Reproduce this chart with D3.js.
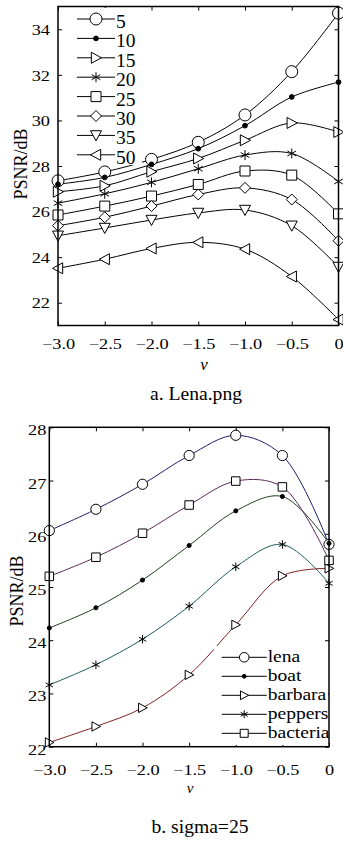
<!DOCTYPE html>
<html>
<head>
<meta charset="utf-8">
<script src="https://cdn.jsdelivr.net/npm/d3@7"></script>
<style>
  body { margin: 0; background: #fff; }
  svg { display: block; font-family: "Liberation Serif", "Times New Roman", serif; }
</style>
</head>
<body>
<svg id="fig" width="343" height="841"></svg>
<script>
// x positions (v) shared by both panels
const vValues = [-3, -2.5, -2, -1.5, -1, -0.5, 0];

// panel a: Lena.png, one curve per noise level
const sigmaLabels = ['5', '10', '15', '20', '25', '30', '35', '50'];
const sigma5  = [27.35, 27.74, 28.29, 29.04, 30.24, 32.14, 34.71];
const sigma10 = [27.20, 27.50, 28.07, 28.76, 29.77, 31.03, 31.68];
const sigma15 = [26.87, 27.13, 27.75, 28.33, 29.13, 29.89, 29.49];
const sigma20 = [26.37, 26.78, 27.28, 27.88, 28.48, 28.55, 27.32];
const sigma25 = [25.85, 26.24, 26.68, 27.19, 27.78, 27.60, 25.90];
const sigma30 = [25.38, 25.75, 26.24, 26.75, 27.04, 26.53, 24.72];
const sigma35 = [24.94, 25.28, 25.63, 25.94, 26.07, 25.38, 23.57];
const sigma50 = [23.51, 23.91, 24.38, 24.65, 24.35, 23.15, 21.26];
const yTicksA = [22, 24, 26, 28, 30, 32, 34];

// panel b: sigma=25, one curve per image
const imageLabels = ['lena', 'boat', 'barbara', 'peppers', 'bacteria'];
const lena     = [26.06, 26.46, 26.93, 27.47, 27.85, 27.47, 25.80];
const boat     = [24.23, 24.61, 25.13, 25.78, 26.43, 26.70, 25.82];
const barbara  = [22.08, 22.38, 22.73, 23.35, 24.29, 25.21, 25.35];
const peppers  = [23.16, 23.54, 24.02, 24.64, 25.38, 25.80, 25.07];
const bacteria = [25.20, 25.56, 26.01, 26.54, 26.99, 26.88, 25.50];
const yTicksB = [22, 23, 24, 25, 26, 27, 28];

const svg = d3.select('#fig');
const STRETCH = 1.22;

// marker shapes, s = half size
function markerPath(type, s) {
  const c = s * Math.cos(Math.PI / 6), h = s * Math.sin(Math.PI / 6);
  switch (type) {
    case 'circle':
    case 'dot':
      return `M${s},0A${s},${s} 0 1,1 ${-s},0A${s},${s} 0 1,1 ${s},0Z`;
    case 'triR': return `M${-s * 0.85},${-s}L${s},0L${-s * 0.85},${s}Z`;
    case 'triL': return `M${s * 0.85},${-s}L${-s},0L${s * 0.85},${s}Z`;
    case 'triD': return `M${-s},${-s * 0.85}L${s},${-s * 0.85}L0,${s}Z`;
    case 'square': return `M${-s},${-s}h${2 * s}v${2 * s}h${-2 * s}Z`;
    case 'diamond': return `M0,${-s}L${s},0L0,${s}L${-s},0Z`;
    case 'star': return `M0,${-s}V${s}M${-c},${-h}L${c},${h}M${-c},${h}L${c},${-h}`;
  }
}
const markerSize = { circle: 6, dot: 2.4, triR: 5.5, triL: 5.5, triD: 5.5, square: 5, diamond: 5.5, star: 5 };

function drawMarker(g, type, cx, cy, scale) {
  const s = markerSize[type] * scale;
  g.append('path')
    .attr('transform', `translate(${cx},${cy})`)
    .attr('d', markerPath(type, s))
    .attr('fill', type === 'dot' ? '#000' : (type === 'star' ? 'none' : '#fff'))
    .attr('stroke', '#000')
    .attr('stroke-width', 1);
}

const fmtV = d => d === 0 ? '0' : d3.format('.1f')(d);

function drawPanel(cfg) {
  const g = svg.append('g');
  const x = d3.scaleLinear().domain([-3, 0]).range([cfg.left, cfg.right]);
  const y = d3.scaleLinear().domain(cfg.yDomain).range([cfg.bottom, cfg.top]);

  // axes with inward ticks on all four sides
  const xb = g.append('g')
    .attr('transform', `translate(0,${cfg.bottom})`)
    .call(d3.axisBottom(x).tickValues(vValues).tickSizeInner(-4).tickSizeOuter(0).tickFormat(fmtV));
  const xt = g.append('g')
    .attr('transform', `translate(0,${cfg.top})`)
    .call(d3.axisTop(x).tickValues(vValues).tickSizeInner(-4).tickSizeOuter(0).tickFormat(''));
  const yl = g.append('g')
    .attr('transform', `translate(${cfg.left},0)`)
    .call(d3.axisLeft(y).tickValues(cfg.yTicks).tickSizeInner(-4).tickSizeOuter(0).tickFormat(d3.format('d')));
  const yr = g.append('g')
    .attr('transform', `translate(${cfg.right},0)`)
    .call(d3.axisRight(y).tickValues(cfg.yTicks).tickSizeInner(-4).tickSizeOuter(0).tickFormat(''));

  [xb, xt, yl, yr].forEach(a => {
    a.select('.domain').remove();
    a.attr('font-family', null).attr('font-size', 15);
    a.selectAll('.tick line').attr('stroke', '#000').attr('stroke-width', 1);
  });
  xb.selectAll('.tick text')
    .attr('y', cfg.xTickY).attr('dy', null)
    .attr('fill', '#000')
    .attr('transform', `scale(${STRETCH},1)`);
  yl.selectAll('.tick text')
    .attr('x', -cfg.yTickGap / STRETCH).attr('dy', cfg.yTickDy)
    .attr('fill', '#000')
    .attr('transform', `scale(${STRETCH},1)`);

  // curves
  const line = d3.line()
    .x((d, i) => x(vValues[i]))
    .y(d => y(d))
    .curve(d3.curveCatmullRom.alpha(0.5));

  cfg.series.forEach(s => {
    g.append('path')
      .attr('d', line(s.values))
      .attr('fill', 'none')
      .attr('stroke', s.color)
      .attr('stroke-width', 1);
  });
  cfg.series.forEach(s => {
    s.values.forEach((v, i) => drawMarker(g, s.marker, x(vValues[i]), y(v), cfg.markerScale));
  });

  // legend with white background
  const lg = cfg.legend;
  g.append('rect')
    .attr('x', lg.box[0]).attr('y', lg.box[1])
    .attr('width', lg.box[2]).attr('height', lg.box[3])
    .attr('fill', '#fff');
  cfg.series.forEach((s, i) => {
    const ly = lg.y0 + i * lg.dy;
    g.append('line')
      .attr('x1', lg.x0).attr('x2', lg.x1)
      .attr('y1', ly).attr('y2', ly)
      .attr('stroke', '#000').attr('stroke-width', 1);
    drawMarker(g, s.marker, (lg.x0 + lg.x1) / 2, ly, lg.markerScale);
    g.append('text')
      .attr('transform', `translate(${lg.x1 + 1},${ly + lg.textDy}) scale(${lg.stretch},1)`)
      .attr('font-size', lg.fontSize)
      .text(s.name);
  });

  // frame
  g.append('rect')
    .attr('x', cfg.left).attr('y', cfg.top)
    .attr('width', cfg.right - cfg.left).attr('height', cfg.bottom - cfg.top)
    .attr('fill', 'none').attr('stroke', '#000').attr('stroke-width', 1.5);

  // y label
  g.append('text')
    .attr('transform', `translate(${cfg.yLabel[0]},${cfg.yLabel[1]}) scale(1.1,1) rotate(-90)`)
    .attr('text-anchor', 'middle')
    .attr('font-size', 18)
    .text('PSNR/dB');

  // x label (italic v)
  g.append('text')
    .attr('x', cfg.xLabel[0]).attr('y', cfg.xLabel[1])
    .attr('text-anchor', 'middle')
    .attr('font-size', cfg.xLabelSize)
    .attr('font-style', 'italic')
    .text('v');

  // caption
  g.append('text')
    .attr('transform', `translate(${cfg.caption[0]},${cfg.caption[1]}) scale(1.06,1)`)
    .attr('text-anchor', 'middle')
    .attr('font-size', 18.5)
    .text(cfg.captionText);
}

drawPanel({
  left: 58, right: 338.5, top: 6.5, bottom: 325.5,
  yDomain: [21, 35], yTicks: yTicksA,
  xTickY: 23.5, yTickGap: 8, yTickDy: '0.35em',
  markerScale: 1,
  series: [
    { name: sigmaLabels[0], values: sigma5,  marker: 'circle',  color: '#000' },
    { name: sigmaLabels[1], values: sigma10, marker: 'dot',     color: '#000' },
    { name: sigmaLabels[2], values: sigma15, marker: 'triR',    color: '#000' },
    { name: sigmaLabels[3], values: sigma20, marker: 'star',    color: '#000' },
    { name: sigmaLabels[4], values: sigma25, marker: 'square',  color: '#000' },
    { name: sigmaLabels[5], values: sigma30, marker: 'diamond', color: '#000' },
    { name: sigmaLabels[6], values: sigma35, marker: 'triD',    color: '#000' },
    { name: sigmaLabels[7], values: sigma50, marker: 'triL',    color: '#000' }
  ],
  legend: { box: [70, 8, 72, 157], x0: 77, x1: 115, y0: 19, dy: 19.4, textDy: 9, fontSize: 19.5, stretch: 1.0, markerScale: 1 },
  yLabel: [26.5, 164],
  xLabel: [204, 369.5], xLabelSize: 17,
  caption: [196, 400],
  captionText: 'a. Lena.png'
});

drawPanel({
  left: 49.3, right: 329, top: 427.3, bottom: 746.7,
  yDomain: [22, 28], yTicks: yTicksB,
  xTickY: 28.5, yTickGap: 3, yTickDy: '0.5em',
  markerScale: 0.85,
  series: [
    { name: imageLabels[0], values: lena,     marker: 'circle', color: '#1f1f6e' },
    { name: imageLabels[1], values: boat,     marker: 'dot',    color: '#1f3f1f' },
    { name: imageLabels[2], values: barbara,  marker: 'triR',   color: '#7f2020' },
    { name: imageLabels[3], values: peppers,  marker: 'star',   color: '#1f5c5c' },
    { name: imageLabels[4], values: bacteria, marker: 'square', color: '#5c2a58' }
  ],
  legend: { box: [214, 646, 114, 99], x0: 221.7, x1: 266.7, y0: 657.3, dy: 19, textDy: 5, fontSize: 17, stretch: 1.15, markerScale: 0.8 },
  yLabel: [22.5, 591],
  xLabel: [190, 793], xLabelSize: 15,
  caption: [200, 833],
  captionText: 'b. sigma=25'
});
</script>
</body>
</html>
